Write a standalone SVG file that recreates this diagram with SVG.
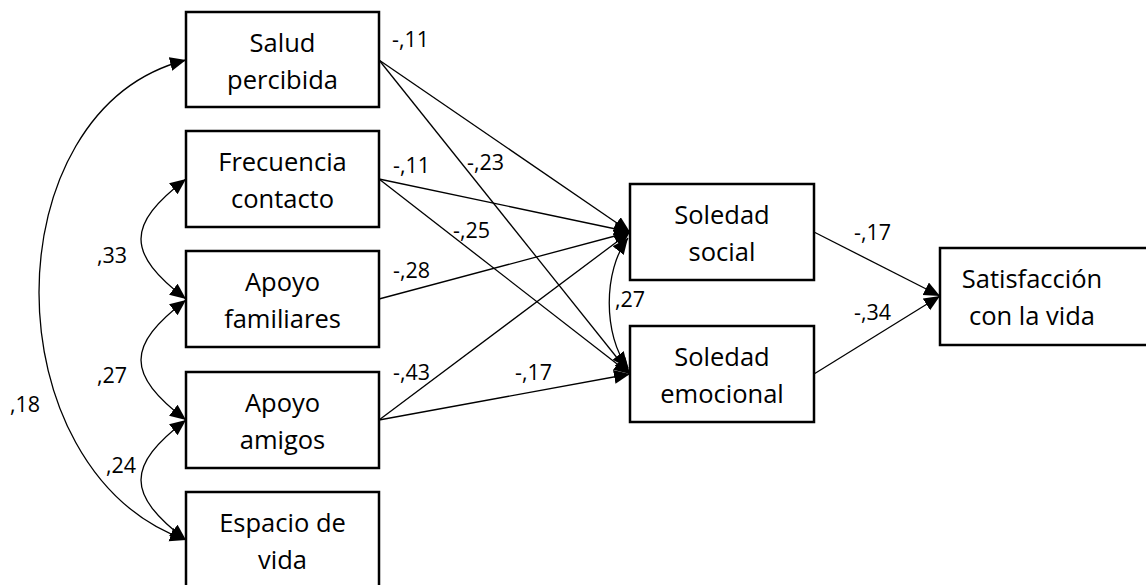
<svg xmlns="http://www.w3.org/2000/svg" width="1146" height="585" viewBox="0 0 1146 585">
  <defs>
    <marker id="head" markerUnits="userSpaceOnUse" markerWidth="17" markerHeight="15" refX="16" refY="7" orient="auto-start-reverse">
      <path d="M0,0 L16,7 L0,14 Z" fill="#000"/>
    </marker>
    <style>
      .box { fill: #fff; stroke: #000; stroke-width: 2.5; }
      .name { font-family: "Open Sans", "Noto Sans", sans-serif; font-size: 25.5px; fill: #000; text-anchor: middle; }
      .coef { font-family: "Open Sans", "Noto Sans", sans-serif; font-size: 21.5px; fill: #000; }
      .path { fill: none; stroke: #000; stroke-width: 1.3; marker-end: url(#head); }
      .cov { fill: none; stroke: #000; stroke-width: 1.3; marker-start: url(#head); marker-end: url(#head); }
    </style>
  </defs>
  <rect width="1146" height="585" fill="#fff"/>

  <!-- connectors: regressions and covariances -->
  <g id="connectors">
    <line class="path" x1="379" y1="60" x2="630" y2="232"/>
    <line class="path" x1="379" y1="60" x2="630" y2="374"/>
    <line class="path" x1="379" y1="179" x2="630" y2="232"/>
    <line class="path" x1="379" y1="179" x2="630" y2="374"/>
    <line class="path" x1="379" y1="299" x2="630" y2="232"/>
    <line class="path" x1="379" y1="420" x2="630" y2="232"/>
    <line class="path" x1="379" y1="420" x2="630" y2="374"/>
    <line class="path" x1="814" y1="232" x2="940" y2="296"/>
    <line class="path" x1="814" y1="374" x2="940" y2="296"/>
    <path class="cov" d="M628,238 C603,270 603,336 628,368"/>
    <path class="cov" d="M186,60 C-10,110 -10,470 186,540"/>
    <path class="cov" d="M186,179 C126,225 126,253 186,299"/>
    <path class="cov" d="M186,300 C126,346 126,374 186,420"/>
    <path class="cov" d="M186,420 C126,466 126,494 186,540"/>

    <text class="coef" x="392" y="47">-,11</text>
    <text class="coef" x="467" y="170">-,23</text>
    <text class="coef" x="393" y="173">-,11</text>
    <text class="coef" x="453" y="238">-,25</text>
    <text class="coef" x="393" y="278">-,28</text>
    <text class="coef" x="393" y="380">-,43</text>
    <text class="coef" x="515" y="380">-,17</text>
    <text class="coef" x="615" y="307">,27</text>
    <text class="coef" x="854" y="240">-,17</text>
    <text class="coef" x="854" y="320">-,34</text>
    <text class="coef" x="97" y="263">,33</text>
    <text class="coef" x="97" y="383">,27</text>
    <text class="coef" x="106" y="473">,24</text>
    <text class="coef" x="10" y="412">,18</text>
  </g>

  <g id="salud">
    <rect class="box" x="186" y="12" width="193" height="95"/>
    <text class="name" x="282.5" y="51.5">Salud</text>
    <text class="name" x="282.5" y="88.5">percibida</text>
  </g>
  <g id="frecuencia">
    <rect class="box" x="186" y="131" width="193" height="96"/>
    <text class="name" x="282.5" y="171">Frecuencia</text>
    <text class="name" x="282.5" y="208">contacto</text>
  </g>
  <g id="familiares">
    <rect class="box" x="186" y="251" width="193" height="96"/>
    <text class="name" x="282.5" y="291">Apoyo</text>
    <text class="name" x="282.5" y="328">familiares</text>
  </g>
  <g id="amigos">
    <rect class="box" x="186" y="372" width="193" height="96"/>
    <text class="name" x="282.5" y="412">Apoyo</text>
    <text class="name" x="282.5" y="449">amigos</text>
  </g>
  <g id="espacio">
    <rect class="box" x="186" y="492" width="193" height="96"/>
    <text class="name" x="282.5" y="532">Espacio de</text>
    <text class="name" x="282.5" y="569">vida</text>
  </g>
  <g id="social">
    <rect class="box" x="630" y="184" width="184" height="96"/>
    <text class="name" x="722" y="224">Soledad</text>
    <text class="name" x="722" y="261">social</text>
  </g>
  <g id="emocional">
    <rect class="box" x="630" y="326" width="184" height="96"/>
    <text class="name" x="722" y="366">Soledad</text>
    <text class="name" x="722" y="403">emocional</text>
  </g>
  <g id="satisfaccion">
    <rect class="box" x="940" y="248" width="215" height="97"/>
    <text class="name" x="1032" y="288">Satisfacción</text>
    <text class="name" x="1032" y="325">con la vida</text>
  </g>
</svg>
